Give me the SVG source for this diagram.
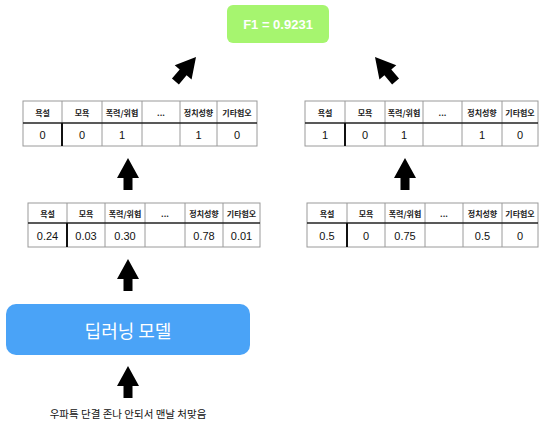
<svg xmlns="http://www.w3.org/2000/svg" width="539" height="421" viewBox="0 0 539 421">
<style>
text{font-family:"Liberation Sans","Noto Sans CJK KR",sans-serif;text-anchor:middle;dominant-baseline:central}
.grid{fill:#fff;stroke:#9a9a9a;stroke-width:1}
.sep{stroke:#222;stroke-width:1.3}
.sel{stroke:#111;stroke-width:2}
.hd{font-size:8px;font-weight:bold;fill:#222;font-family:"Noto Sans CJK KR",sans-serif}
.val{font-size:11px;fill:#111}
.arrow{fill:#000}
</style>
<defs>
<path id="arr" d="M0,0 L11,20 L4.5,20 L4.5,32 L-4.5,32 L-4.5,20 L-11,20 Z"/>
</defs>

<g id="f1">
<rect x="227" y="5" width="102" height="38" rx="6" fill="#a6f56f"/>
<text x="278" y="24.5" style="font-size:13px;font-weight:bold;fill:#fff">F1 = 0.9231</text>
</g>

<g id="table-top-left">
<rect class="grid" x="23" y="101" width="234" height="45"/>
<path class="grid" d="M62,101V146M102,101V146M142,101V146M180,101V146M217,101V146"/>
<path class="sep" d="M23,123H257"/>
<path class="sel" d="M62,123V146"/>
<text class="hd" x="42.5" y="112">욕설</text>
<text class="hd" x="82" y="112">모욕</text>
<text class="hd" x="122" y="112">폭력/위협</text>
<text class="hd" x="161" y="112">...</text>
<text class="hd" x="198.5" y="112">정치성향</text>
<text class="hd" x="237" y="112">기타혐오</text>
<text class="val" x="42.5" y="135">0</text>
<text class="val" x="82" y="135">0</text>
<text class="val" x="122" y="135">1</text>
<text class="val" x="198.5" y="135">1</text>
<text class="val" x="237" y="135">0</text>
</g>

<g id="table-top-right">
<rect class="grid" x="305" y="101" width="233" height="45"/>
<path class="grid" d="M345,101V146M385,101V146M423,101V146M462,101V146M502,101V146"/>
<path class="sep" d="M305,123H538"/>
<path class="sel" d="M345,123V146"/>
<text class="hd" x="325" y="112">욕설</text>
<text class="hd" x="365" y="112">모욕</text>
<text class="hd" x="404" y="112">폭력/위협</text>
<text class="hd" x="442.5" y="112">...</text>
<text class="hd" x="482" y="112">정치성향</text>
<text class="hd" x="520" y="112">기타혐오</text>
<text class="val" x="325" y="135">1</text>
<text class="val" x="365" y="135">0</text>
<text class="val" x="404" y="135">1</text>
<text class="val" x="482" y="135">1</text>
<text class="val" x="520" y="135">0</text>
</g>

<g id="table-mid-left">
<rect class="grid" x="28" y="203" width="232" height="44"/>
<path class="grid" d="M67,203V247M105,203V247M145,203V247M185,203V247M223,203V247"/>
<path class="sep" d="M28,223H260"/>
<path class="sel" d="M67,223V247"/>
<text class="hd" x="47.5" y="213">욕설</text>
<text class="hd" x="86" y="213">모욕</text>
<text class="hd" x="125" y="213">폭력/위협</text>
<text class="hd" x="165" y="213">...</text>
<text class="hd" x="204" y="213">정치성향</text>
<text class="hd" x="241.5" y="213">기타혐오</text>
<text class="val" x="47.5" y="235.5">0.24</text>
<text class="val" x="86" y="235.5">0.03</text>
<text class="val" x="125" y="235.5">0.30</text>
<text class="val" x="204" y="235.5">0.78</text>
<text class="val" x="241.5" y="235.5">0.01</text>
</g>

<g id="table-mid-right">
<rect class="grid" x="307" y="203" width="231" height="44"/>
<path class="grid" d="M347,203V247M385,203V247M425,203V247M463,203V247M502,203V247"/>
<path class="sep" d="M307,223H538"/>
<path class="sel" d="M347,223V247"/>
<text class="hd" x="327" y="213">욕설</text>
<text class="hd" x="366" y="213">모욕</text>
<text class="hd" x="405" y="213">폭력/위협</text>
<text class="hd" x="444" y="213">...</text>
<text class="hd" x="482.5" y="213">정치성향</text>
<text class="hd" x="520" y="213">기타혐오</text>
<text class="val" x="327" y="235.5">0.5</text>
<text class="val" x="366" y="235.5">0</text>
<text class="val" x="405" y="235.5">0.75</text>
<text class="val" x="482.5" y="235.5">0.5</text>
<text class="val" x="520" y="235.5">0</text>
</g>

<g id="model">
<rect x="6" y="304" width="244" height="51" rx="10" fill="#4aa3f7"/>
<text x="128" y="329.5" style="font-size:18px;fill:#fff;font-family:'Noto Sans CJK KR',sans-serif">딥러닝 모델</text>
</g>

<g id="input">
<text x="128" y="413" style="font-size:10.5px;fill:#111;font-family:'Noto Sans CJK KR',sans-serif">우파특 단결 존나 안되서 맨날 처맞음</text>
</g>

<g id="connectors" class="arrow">
<use href="#arr" transform="translate(128,366)"/>
<use href="#arr" transform="translate(128,259)"/>
<use href="#arr" transform="translate(128,158)"/>
<use href="#arr" transform="translate(405,158)"/>
<use href="#arr" transform="translate(196,57) rotate(40)"/>
<use href="#arr" transform="translate(375,57) rotate(-40)"/>
</g>
</svg>
